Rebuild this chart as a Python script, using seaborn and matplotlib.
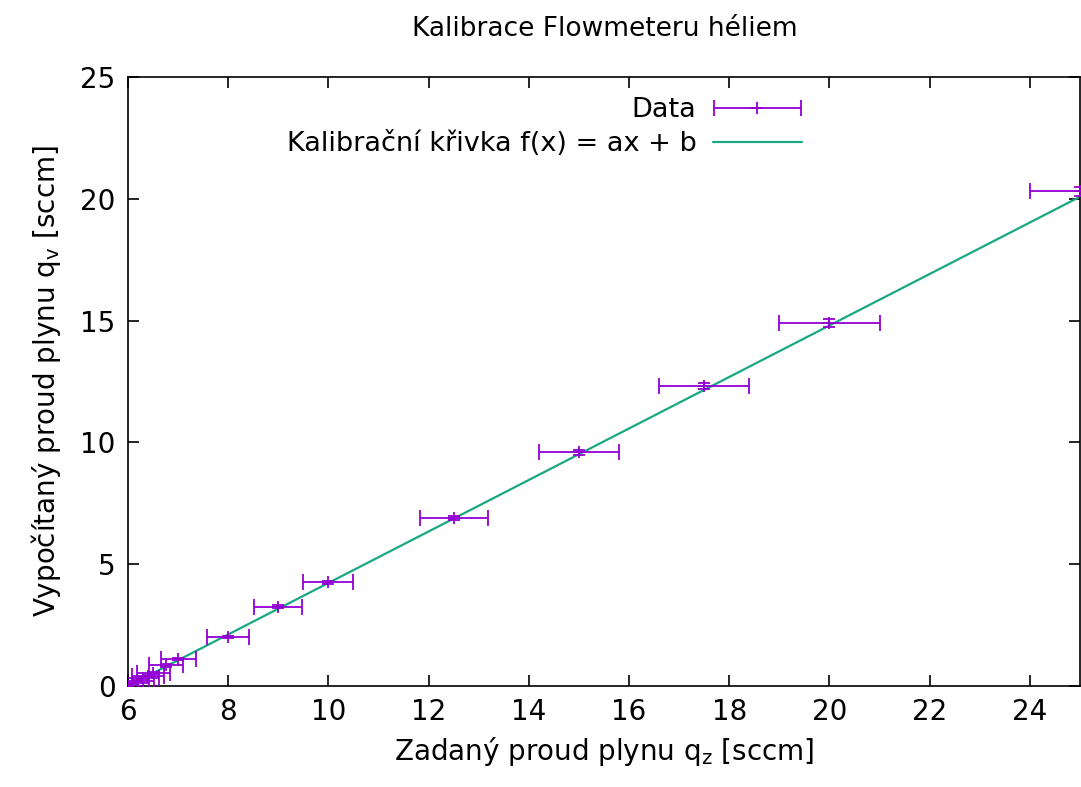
import numpy as np
import seaborn as sns
from matplotlib import pyplot as plt
from matplotlib.legend_handler import HandlerErrorbar

# data
q_set = [6.0, 6.1, 6.2, 6.3, 6.4, 6.5, 6.75, 7.0, 8.0, 9.0, 10.0, 12.5, 15.0, 17.5, 20.0, 25.0]
q_calc = [0.02, 0.12, 0.22, 0.32, 0.42, 0.52, 0.85, 1.1, 2.0, 3.25, 4.25, 6.9, 9.6, 12.3, 14.9, 20.3]
q_set_err = [0.30, 0.31, 0.31, 0.32, 0.32, 0.33, 0.34, 0.35, 0.42, 0.48, 0.5, 0.68, 0.8, 0.9, 1.0, 1.0]
q_calc_err = [0.02, 0.02, 0.03, 0.03, 0.04, 0.04, 0.05, 0.05, 0.05, 0.06, 0.07, 0.08, 0.1, 0.12, 0.15, 0.2]

# calibration line f(x) = a*x + b
fit_a = 1.057
fit_b = -6.34
fit_range = [6.0, 25.0]

purple = "#9400d3"
green = "#1aa883"

sns.set_style("ticks")
plt.rcParams["font.family"] = ["DejaVu Sans"]
plt.rcParams["mathtext.fontset"] = "dejavusans"
plt.rcParams["text.color"] = "black"
plt.rcParams["axes.labelcolor"] = "black"

fig = plt.figure(figsize=(10.81, 7.87), dpi=100)
ax = fig.add_axes([128 / 1081, 1 - 686 / 787, 952 / 1081, 609 / 787])

fx = np.array(fit_range)
sns.lineplot(x=fx, y=fit_a * fx + fit_b, ax=ax, color=green, lw=1.6,
             label="Kalibrační křivka f(x) = ax + b", zorder=2)
# horizontal bars (these carry the legend entry), then the small vertical ones
data_eb = ax.errorbar(q_set, q_calc, xerr=q_set_err, fmt="+", color=purple, ms=8,
                      mew=1.3, elinewidth=1.3, capsize=6, capthick=1.3,
                      label="Data", zorder=3)
ax.errorbar(q_set, q_calc, yerr=q_calc_err, fmt="none", color=purple,
            elinewidth=1.3, capsize=4, capthick=1.3, zorder=3)

ax.set_xlim(6, 25)
ax.set_ylim(0, 25)
ax.set_xticks(np.arange(6, 25, 2))
ax.set_yticks(np.arange(0, 26, 5))
ax.tick_params(direction="in", top=True, right=True, length=8, width=1.2,
               labelsize=20, colors="black", pad=9)
for s in ax.spines.values():
    s.set_visible(True)
    s.set_linewidth(1.2)
    s.set_color("black")

ax.set_xlabel(r"Zadaný proud plynu q$_\mathregular{z}$ [sccm]", fontsize=20, labelpad=6)
ax.set_ylabel(r"Vypočítaný proud plynu q$_\mathregular{v}$ [sccm]", fontsize=20, labelpad=12)
fig.text(605 / 1081, 1 - 29 / 787, "Kalibrace Flowmeteru héliem", fontsize=19,
         ha="center", va="center")

handles, labels = ax.get_legend_handles_labels()
order = [labels.index("Data"), labels.index("Kalibrační křivka f(x) = ax + b")]
leg = ax.legend([handles[i] for i in order], [labels[i] for i in order],
                loc="upper right", bbox_to_anchor=(802 / 1081, 1 - 97 / 787),
                bbox_transform=fig.transFigure, frameon=False, fontsize=19.5,
                markerfirst=False, handlelength=3.3, handletextpad=0.6,
                labelspacing=0.3, borderaxespad=0, borderpad=0,
                handler_map={data_eb: HandlerErrorbar(xerr_size=1.6, numpoints=1)})
leg._legend_box._children[-1]._children[0].align = "right"

fig.savefig("out.png", dpi=100)
